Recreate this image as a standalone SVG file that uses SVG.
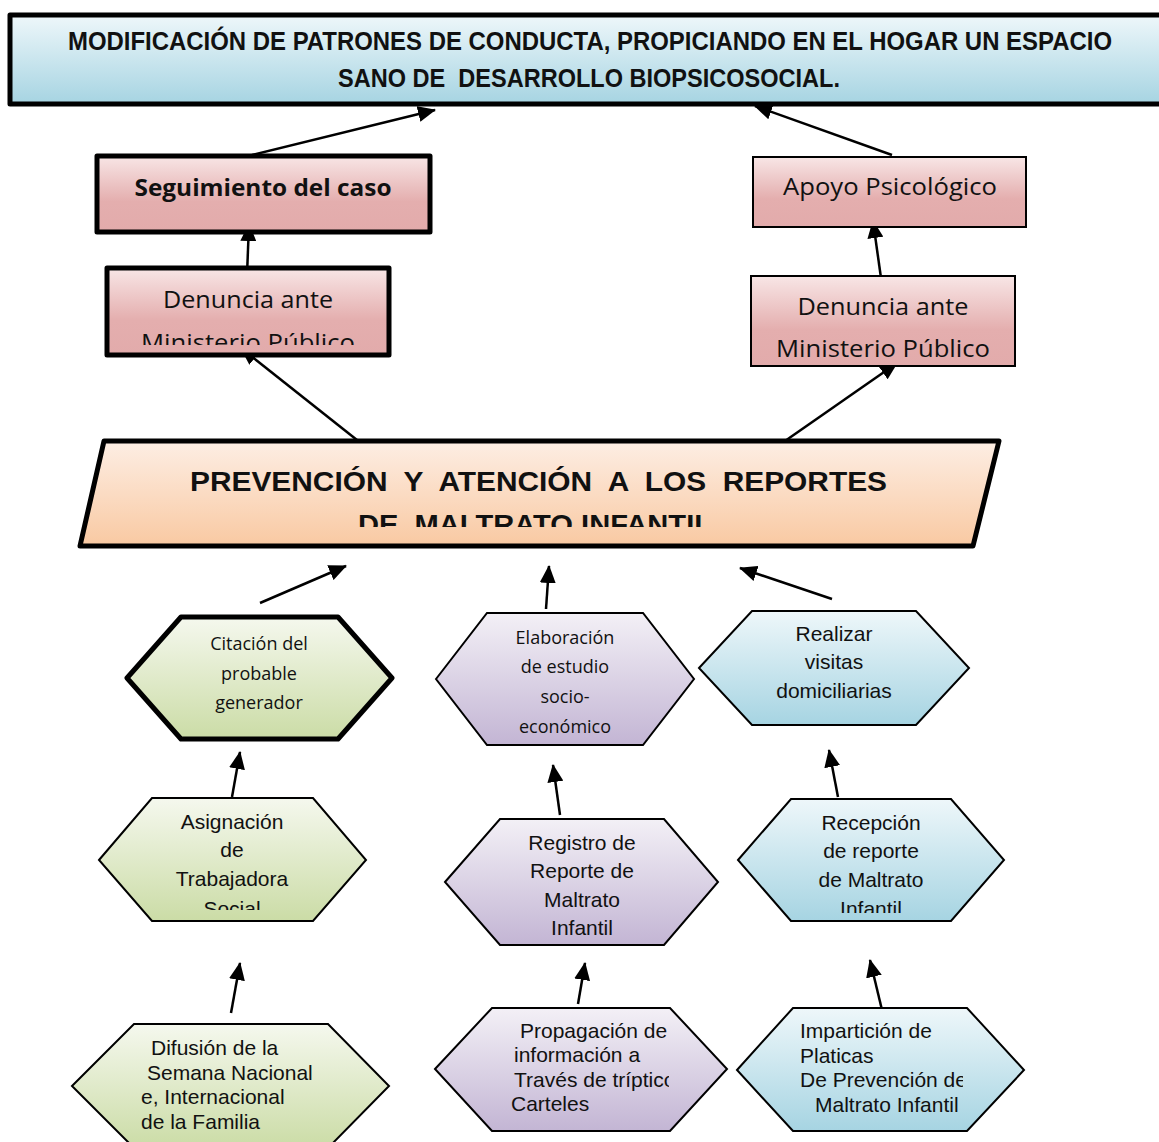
<svg xmlns="http://www.w3.org/2000/svg" width="1159" height="1142" viewBox="0 0 1159 1142" xml:space="preserve">
<defs>
<linearGradient id="gBlue" x1="0" y1="0" x2="0" y2="1"><stop offset="0" stop-color="#eef7fa"/><stop offset="1" stop-color="#a6d4e2"/></linearGradient>
<linearGradient id="gPink" x1="0" y1="0" x2="0" y2="1"><stop offset="0" stop-color="#f8e6e6"/><stop offset="0.6" stop-color="#e4aeae"/><stop offset="1" stop-color="#e2abab"/></linearGradient>
<linearGradient id="gPeach" x1="0" y1="0" x2="0" y2="1"><stop offset="0" stop-color="#fdeee4"/><stop offset="1" stop-color="#f9c9a2"/></linearGradient>
<linearGradient id="gGreen" x1="0" y1="0" x2="0" y2="1"><stop offset="0" stop-color="#f5f8ee"/><stop offset="1" stop-color="#cbdca6"/></linearGradient>
<linearGradient id="gPurple" x1="0" y1="0" x2="0" y2="1"><stop offset="0" stop-color="#f3f0f6"/><stop offset="1" stop-color="#c3b5d4"/></linearGradient>
<marker id="arr" markerUnits="userSpaceOnUse" markerWidth="18" markerHeight="16" viewBox="0 0 18 16" refX="17" refY="8" orient="auto"><path d="M0,0 L18,8 L0,16 Z" fill="#000"/></marker>
<clipPath id="cDenL"><rect x="100" y="260" width="300" height="85"/></clipPath>
<clipPath id="cPar"><rect x="80" y="440" width="930" height="87"/></clipPath>
<clipPath id="cAsig"><rect x="90" y="790" width="290" height="120"/></clipPath>
<clipPath id="cRec"><rect x="730" y="790" width="290" height="123"/></clipPath>
<clipPath id="cProp"><rect x="430" y="1000" width="239" height="140"/></clipPath>
<clipPath id="cImp"><rect x="730" y="1000" width="233" height="140"/></clipPath>
</defs>
<style>
text{white-space:pre;}
.cal{font-family:"Open Sans","Noto Sans","Liberation Sans",sans-serif;fill:#111;}
.ar{font-family:"Liberation Sans",Arial,sans-serif;fill:#111;}
.ln{stroke:#000;stroke-width:2.5;fill:none;marker-end:url(#arr);}
.thick{stroke:#000;stroke-width:5;stroke-linejoin:round;}
.thin{stroke:#000;stroke-width:2;stroke-linejoin:miter;}
</style>
<rect width="1159" height="1142" fill="#fff"/>
<g id="connectors">
<line class="ln" x1="252" y1="155" x2="435" y2="110"/>
<line class="ln" x1="892" y1="155" x2="755" y2="106"/>
<line class="ln" x1="247" y1="275" x2="249" y2="224"/>
<line class="ln" x1="881" y1="278" x2="873" y2="221"/>
<line class="ln" x1="357" y1="440" x2="241" y2="348"/>
<line class="ln" x1="785" y1="441" x2="897" y2="363"/>
<line class="ln" x1="260" y1="603" x2="346" y2="566"/>
<line class="ln" x1="546" y1="609" x2="549" y2="566"/>
<line class="ln" x1="832" y1="599" x2="740" y2="568"/>
<line class="ln" x1="232" y1="797" x2="240" y2="752"/>
<line class="ln" x1="560" y1="815" x2="553" y2="765"/>
<line class="ln" x1="838" y1="797" x2="829" y2="750"/>
<line class="ln" x1="231" y1="1013" x2="240" y2="963"/>
<line class="ln" x1="578" y1="1004" x2="585" y2="963"/>
<line class="ln" x1="882" y1="1010" x2="870" y2="960"/>
</g>
<g id="goal">
<rect x="10" y="15" width="1160" height="89" fill="url(#gBlue)" class="thick"/>
<text class="ar" font-weight="bold" font-size="25" x="68" y="50" textLength="1044" lengthAdjust="spacingAndGlyphs">MODIFICACIÓN DE PATRONES DE CONDUCTA, PROPICIANDO EN EL HOGAR UN ESPACIO</text>
<text class="ar" font-weight="bold" font-size="25" x="338" y="87" textLength="502" lengthAdjust="spacingAndGlyphs">SANO DE  DESARROLLO BIOPSICOSOCIAL.</text>
</g>
<g id="seguimiento">
<rect x="97" y="156" width="333" height="76" fill="url(#gPink)" class="thick"/>
<text class="cal" font-weight="bold" font-size="23" x="263" y="196" text-anchor="middle" textLength="257" lengthAdjust="spacingAndGlyphs">Seguimiento del caso</text>
</g>
<g id="apoyo">
<rect x="753" y="157" width="273" height="70" fill="url(#gPink)" class="thin"/>
<text class="cal" font-size="23" x="890" y="195" text-anchor="middle" textLength="214" lengthAdjust="spacingAndGlyphs">Apoyo Psicológico</text>
</g>
<g id="denuncia-izq">
<rect x="107" y="268" width="282" height="87" fill="url(#gPink)" class="thick"/>
<text class="cal" font-size="23" x="248" y="308" text-anchor="middle" textLength="170" lengthAdjust="spacingAndGlyphs">Denuncia ante</text>
<text class="cal" font-size="23" x="248" y="351" text-anchor="middle" textLength="214" lengthAdjust="spacingAndGlyphs" clip-path="url(#cDenL)">Ministerio Público</text>
</g>
<g id="denuncia-der">
<rect x="751" y="276" width="264" height="90" fill="url(#gPink)" class="thin"/>
<text class="cal" font-size="23" x="883" y="315" text-anchor="middle" textLength="171" lengthAdjust="spacingAndGlyphs">Denuncia ante</text>
<text class="cal" font-size="23" x="883" y="357" text-anchor="middle" textLength="214" lengthAdjust="spacingAndGlyphs">Ministerio Público</text>
</g>
<g id="prevencion">
<polygon points="104,441 999,441 973,546 80,546" fill="url(#gPeach)" class="thick"/>
<text class="ar" font-weight="bold" font-size="27" x="190" y="491" textLength="697" lengthAdjust="spacingAndGlyphs">PREVENCIÓN  Y  ATENCIÓN  A  LOS  REPORTES</text>
<text class="ar" font-weight="bold" font-size="27" x="358" y="534" textLength="354" lengthAdjust="spacingAndGlyphs" clip-path="url(#cPar)">DE  MALTRATO INFANTIL</text>
</g>
<g id="citacion">
<polygon points="127,678 181,617 338,617 392,678 338,739 181,739" fill="url(#gGreen)" class="thick"/>
<g class="cal" font-size="18" text-anchor="middle">
<text x="259" y="650">Citación del</text>
<text x="259" y="680">probable</text>
<text x="259" y="709">generador</text>
</g>
</g>
<g id="elaboracion">
<polygon points="436,679 487,613 643,613 694,679 643,745 487,745" fill="url(#gPurple)" class="thin"/>
<g class="cal" font-size="18" text-anchor="middle">
<text x="565" y="644">Elaboración</text>
<text x="565" y="673">de estudio</text>
<text x="565" y="703">socio-</text>
<text x="565" y="733">económico</text>
</g>
</g>
<g id="realizar">
<polygon points="699,668 752,611 916,611 969,668 916,725 752,725" fill="url(#gBlue)" class="thin"/>
<g class="ar" font-size="21" text-anchor="middle">
<text x="834" y="641">Realizar</text>
<text x="834" y="669">visitas</text>
<text x="834" y="698">domiciliarias</text>
</g>
</g>
<g id="asignacion">
<polygon points="99,860 152,798 313,798 366,860 313,921 152,921" fill="url(#gGreen)" class="thin"/>
<g class="ar" font-size="21" text-anchor="middle">
<text x="232" y="829">Asignación</text>
<text x="232" y="857">de</text>
<text x="232" y="886">Trabajadora</text>
<text x="232" y="916" clip-path="url(#cAsig)">Social</text>
</g>
</g>
<g id="registro">
<polygon points="445,882 500,819 664,819 718,882 664,945 500,945" fill="url(#gPurple)" class="thin"/>
<g class="ar" font-size="21" text-anchor="middle">
<text x="582" y="850">Registro de</text>
<text x="582" y="878">Reporte de</text>
<text x="582" y="907">Maltrato</text>
<text x="582" y="935">Infantil</text>
</g>
</g>
<g id="recepcion">
<polygon points="738,860 791,799 951,799 1004,860 951,921 791,921" fill="url(#gBlue)" class="thin"/>
<g class="ar" font-size="21" text-anchor="middle">
<text x="871" y="830">Recepción</text>
<text x="871" y="858">de reporte</text>
<text x="871" y="887">de Maltrato</text>
<text x="871" y="916" clip-path="url(#cRec)">Infantil</text>
</g>
</g>
<g id="difusion">
<polygon points="72,1086 134,1024 328,1024 389,1086 328,1148 134,1148" fill="url(#gGreen)" class="thin"/>
<g class="ar" font-size="21">
<text x="151" y="1055">Difusión de la</text>
<text x="147" y="1080">Semana Nacional</text>
<text x="141" y="1104">e, Internacional</text>
<text x="141" y="1129">de la Familia</text>
</g>
</g>
<g id="propagacion">
<polygon points="435,1069 492,1008 670,1008 727,1069 670,1131 492,1131" fill="url(#gPurple)" class="thin"/>
<g class="ar" font-size="21">
<text x="520" y="1038">Propagación de</text>
<text x="514" y="1062">información a</text>
<text x="514" y="1087" clip-path="url(#cProp)">Través de trípticos</text>
<text x="511" y="1111">Carteles</text>
</g>
</g>
<g id="imparticion">
<polygon points="737,1070 793,1008 967,1008 1024,1070 967,1131 793,1131" fill="url(#gBlue)" class="thin"/>
<g class="ar" font-size="21">
<text x="800" y="1038">Impartición de</text>
<text x="800" y="1063">Platicas</text>
<text x="800" y="1087" clip-path="url(#cImp)">De Prevención de</text>
<text x="815" y="1112">Maltrato Infantil</text>
</g>
</g>
</svg>
